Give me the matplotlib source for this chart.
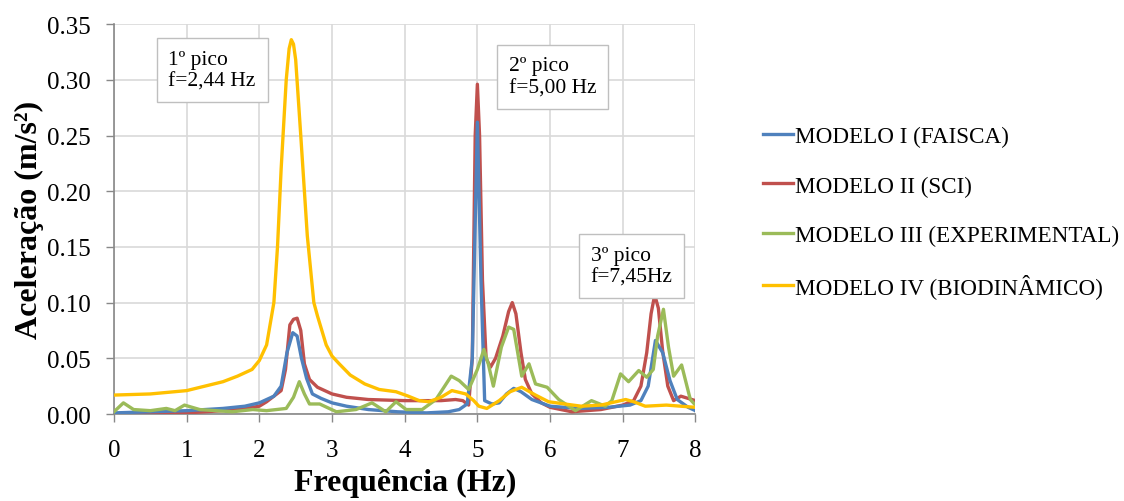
import matplotlib
matplotlib.use('Agg')
import matplotlib.pyplot as plt

# series (frequency in Hz, acceleration in m/s2)
f_faisca = [0, 0.5, 1.0, 1.5, 1.8, 2.0, 2.1, 2.2, 2.3, 2.38, 2.46, 2.52, 2.58, 2.65, 2.73, 2.85,
            3.0, 3.2, 3.5, 3.9, 4.3, 4.6, 4.75, 4.86, 4.93, 5.0, 5.05, 5.1, 5.2, 5.3, 5.4, 5.5,
            5.6, 5.75, 6.0, 6.4, 6.8, 7.1, 7.25, 7.35, 7.45, 7.55, 7.65, 7.75, 7.9, 8.0]
a_faisca = [0.001, 0.002, 0.003, 0.005, 0.007, 0.010, 0.013, 0.016, 0.025, 0.055, 0.073, 0.070,
            0.050, 0.032, 0.018, 0.014, 0.010, 0.007, 0.004, 0.002, 0.001, 0.002, 0.004, 0.009,
            0.050, 0.262, 0.120, 0.012, 0.009, 0.010, 0.018, 0.023, 0.020, 0.013, 0.007, 0.005,
            0.006, 0.008, 0.012, 0.025, 0.066, 0.055, 0.030, 0.013, 0.006, 0.003]

f_sci = [0, 0.5, 1.0, 1.5, 1.8, 2.0, 2.1, 2.2, 2.3, 2.36, 2.42, 2.47, 2.52, 2.57, 2.62, 2.69,
         2.8, 3.0, 3.2, 3.5, 4.0, 4.5, 4.7, 4.8, 4.88, 4.93, 4.97, 5.0, 5.03, 5.07, 5.12, 5.18,
         5.25, 5.35, 5.43, 5.48, 5.53, 5.6, 5.66, 5.75, 5.88, 6.0, 6.3, 6.7, 7.0, 7.15, 7.25,
         7.33, 7.39, 7.44, 7.49, 7.55, 7.62, 7.7, 7.8, 7.9, 8.0]
a_sci = [0.000, 0.0005, 0.001, 0.003, 0.005, 0.007, 0.011, 0.016, 0.021, 0.040, 0.080, 0.085,
         0.086, 0.075, 0.045, 0.031, 0.024, 0.018, 0.015, 0.013, 0.012, 0.012, 0.013, 0.012,
         0.008, 0.050, 0.250, 0.296, 0.250, 0.120, 0.050, 0.042, 0.050, 0.070, 0.092, 0.100,
         0.090, 0.055, 0.031, 0.018, 0.010, 0.006, 0.002, 0.004, 0.008, 0.012, 0.025, 0.055,
         0.090, 0.107, 0.095, 0.056, 0.025, 0.012, 0.016, 0.014, 0.012]

f_exp = [0, 0.13, 0.27, 0.5, 0.72, 0.84, 0.97, 1.18, 1.4, 1.63, 1.91, 2.1, 2.37, 2.47, 2.55,
         2.62, 2.69, 2.83, 3.06, 3.33, 3.55, 3.74, 3.88, 4.02, 4.24, 4.43, 4.64, 4.75, 4.88,
         5.0, 5.09, 5.15, 5.22, 5.33, 5.43, 5.5, 5.61, 5.71, 5.8, 5.96, 6.12, 6.35, 6.57, 6.76,
         6.85, 6.97, 7.08, 7.22, 7.33, 7.42, 7.48, 7.56, 7.63, 7.7, 7.81, 7.93, 8.0]
a_exp = [0.002, 0.010, 0.004, 0.003, 0.005, 0.003, 0.008, 0.004, 0.003, 0.002, 0.004, 0.003,
         0.005, 0.015, 0.029, 0.018, 0.009, 0.009, 0.002, 0.004, 0.010, 0.002, 0.011, 0.004,
         0.004, 0.013, 0.034, 0.030, 0.022, 0.040, 0.058, 0.045, 0.025, 0.060, 0.078, 0.076,
         0.034, 0.045, 0.027, 0.024, 0.013, 0.003, 0.012, 0.007, 0.012, 0.036, 0.029, 0.039,
         0.033, 0.040, 0.070, 0.094, 0.060, 0.034, 0.044, 0.013, 0.008]

f_bio = [0, 0.5, 1.0, 1.5, 1.7, 1.9, 2.0, 2.1, 2.2, 2.25, 2.3, 2.37, 2.41, 2.44, 2.47, 2.5,
         2.57, 2.66, 2.75, 2.8, 2.92, 3.0, 3.1, 3.25, 3.45, 3.65, 3.88, 4.05, 4.2, 4.33, 4.5,
         4.65, 4.84, 4.95, 5.02, 5.13, 5.3, 5.45, 5.61, 5.8, 5.98, 6.2, 6.43, 6.7, 7.04, 7.15,
         7.31, 7.6, 8.0]
a_bio = [0.017, 0.018, 0.021, 0.029, 0.034, 0.040, 0.048, 0.062, 0.100, 0.150, 0.220, 0.300,
         0.328, 0.336, 0.332, 0.318, 0.250, 0.160, 0.100, 0.088, 0.062, 0.052, 0.045, 0.035,
         0.027, 0.022, 0.020, 0.016, 0.012, 0.011, 0.015, 0.021, 0.018, 0.012, 0.007, 0.005,
         0.012, 0.020, 0.024, 0.017, 0.011, 0.009, 0.007, 0.008, 0.013, 0.011, 0.007, 0.008,
         0.006]

labels = ['MODELO I (FAISCA)', 'MODELO II (SCI)', 'MODELO III (EXPERIMENTAL)', 'MODELO IV (BIODINÂMICO)']
x_ticks = [0, 1, 2, 3, 4, 5, 6, 7, 8]
y_ticks = [0.00, 0.05, 0.10, 0.15, 0.20, 0.25, 0.30, 0.35]

plt.rcParams['font.family'] = ['Liberation Serif', 'DejaVu Serif']

fig = plt.figure(figsize=(11.24, 5.02), dpi=100)
ax = fig.add_axes([0.1014, 0.1733, 0.5173, 0.7767])

lw = 2.4
ax.plot(f_faisca, a_faisca, color='#4F81BD', lw=lw, label=labels[0], zorder=4, solid_joinstyle='round')
ax.plot(f_sci, a_sci, color='#C0504D', lw=lw, label=labels[1], zorder=3, solid_joinstyle='round')
ax.plot(f_exp, a_exp, color='#9BBB59', lw=lw, label=labels[2], zorder=5, solid_joinstyle='round')
ax.plot(f_bio, a_bio, color='#FFC000', lw=lw, label=labels[3], zorder=6, solid_joinstyle='round')

ax.set_xlim(0, 8)
ax.set_ylim(0, 0.35)
ax.set_xticks(x_ticks)
ax.set_yticks(y_ticks)
ax.set_xticklabels([str(v) for v in x_ticks])
ax.set_yticklabels([f'{v:.2f}' for v in y_ticks])
ax.tick_params(labelsize=18, length=6, color='#888888', width=1)
ax.tick_params(axis='y', pad=11)
ax.tick_params(axis='x', pad=12)
ax.grid(True, color='#d9d9d9', lw=1.2)
ax.set_axisbelow(True)
for s in ['top', 'right']:
    ax.spines[s].set_visible(False)
for s in ['left', 'bottom']:
    ax.spines[s].set_color('#888888')
    ax.spines[s].set_linewidth(1.2)

ax.set_xlabel('Frequência (Hz)', fontsize=23, fontweight='bold', labelpad=5)
ax.set_ylabel('Aceleração (m/s²)', fontsize=23, fontweight='bold', labelpad=2)

box = dict(boxstyle='square,pad=0.55', fc='white', ec='#bfbfbf', lw=1)
ax.text(0.75, 0.327, '1º pico\nf=2,44 Hz', fontsize=15.5, va='top', ha='left',
        linespacing=1.2, bbox=box, zorder=10)
ax.text(5.43, 0.321, '2º pico\nf=5,00 Hz', fontsize=15.5, va='top', ha='left',
        linespacing=1.2, bbox=box, zorder=10)
ax.text(6.56, 0.151, '3º pico\nf=7,45Hz', fontsize=15.5, va='top', ha='left',
        linespacing=1.2, bbox=box, zorder=10)

fig.legend(loc='center left', bbox_to_anchor=(0.66, 0.575), frameon=False, fontsize=16.7,
           handlelength=1.3, handletextpad=0.1, labelspacing=1.2)

fig.savefig('out.png', dpi=100)
